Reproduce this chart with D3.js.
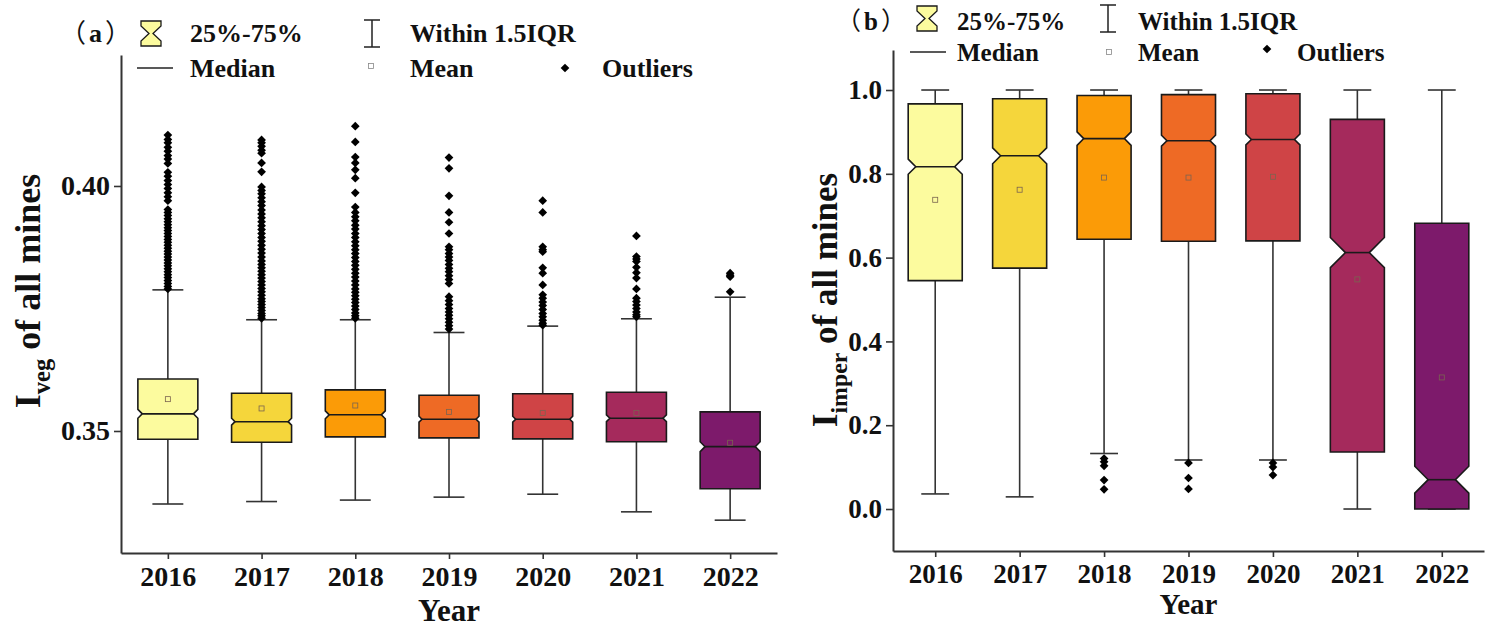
<!DOCTYPE html>
<html>
<head>
<meta charset="utf-8">
<script src="https://cdn.jsdelivr.net/npm/d3@7"></script>
<style>
  body { margin: 0; background: #fff; }
  text { font-family: "Liberation Serif", "Noto Sans CJK SC", serif; font-weight: bold; fill: #111; }
</style>
</head>
<body>
<svg id="chart"></svg>
<script>
// years on the x axis (both panels)
const years = ["2016", "2017", "2018", "2019", "2020", "2021", "2022"];
const boxColors = ["#FCFB9E", "#F5D63B", "#FB9B07", "#EE6A25", "#CF4446", "#A52A5C", "#7D1A6B"];

// panel (a) I_veg
const vegTicks = [0.35, 0.40];
const vegQ1 = [0.3483, 0.3477, 0.3488, 0.3486, 0.3484, 0.3478, 0.3382];
const vegMed = [0.3535, 0.3519, 0.3533, 0.3524, 0.3524, 0.3526, 0.3468];
const vegQ3 = [0.3606, 0.3577, 0.3584, 0.3573, 0.3576, 0.3579, 0.3539];
const vegMean = [0.3565, 0.3546, 0.3552, 0.3539, 0.3537, 0.3537, 0.3476];
const vegLow = [0.3351, 0.3356, 0.3359, 0.3365, 0.3371, 0.3335, 0.3318];
const vegHigh = [0.3788, 0.3727, 0.3727, 0.3701, 0.3714, 0.3729, 0.3773];
const vegNotch = [0.0009, 0.0007, 0.0008, 0.0006, 0.0006, 0.0007, 0.0010];
const vegOut2016 = [0.4104, 0.4095, 0.4088, 0.4079, 0.4071, 0.4062, 0.4055, 0.4046, 0.4028, 0.4020, 0.4011,
  0.4003, 0.3995, 0.3986, 0.3978, 0.3970, 0.3952, 0.3946, 0.3940, 0.3933, 0.3927, 0.3921, 0.3915, 0.3909,
  0.3903, 0.3897, 0.3891, 0.3885, 0.3879, 0.3873, 0.3867, 0.3861, 0.3855, 0.3849, 0.3843, 0.3837, 0.3831,
  0.3825, 0.3819, 0.3813, 0.3807, 0.3801, 0.3795, 0.3790];
const vegOut2017 = [0.4094, 0.4088, 0.4081, 0.4073, 0.4067, 0.4047, 0.4029, 0.3998, 0.3991, 0.3984, 0.3976,
  0.3968, 0.3960, 0.3951, 0.3943, 0.3935, 0.3927, 0.3919, 0.3911, 0.3903, 0.3895, 0.3887, 0.3879, 0.3871,
  0.3863, 0.3855, 0.3847, 0.3840, 0.3833, 0.3826, 0.3819, 0.3812, 0.3805, 0.3798, 0.3791, 0.3784, 0.3777,
  0.3770, 0.3764, 0.3758, 0.3752, 0.3746, 0.3740, 0.3735, 0.3730];
const vegOut2018 = [0.4122, 0.4090, 0.4059, 0.4047, 0.4033, 0.4016, 0.3986, 0.3957, 0.3946, 0.3937, 0.3929,
  0.3920, 0.3912, 0.3903, 0.3895, 0.3886, 0.3878, 0.3870, 0.3862, 0.3854, 0.3846, 0.3838, 0.3830, 0.3822,
  0.3814, 0.3806, 0.3798, 0.3790, 0.3783, 0.3776, 0.3769, 0.3762, 0.3755, 0.3748, 0.3741, 0.3735, 0.3730];
const vegOut2019 = [0.4058, 0.4036, 0.3980, 0.3946, 0.3926, 0.3903, 0.3876, 0.3870, 0.3862, 0.3855, 0.3848,
  0.3840, 0.3832, 0.3825, 0.3817, 0.3809, 0.3801, 0.3774, 0.3766, 0.3758, 0.3750, 0.3743, 0.3736, 0.3729,
  0.3722, 0.3715, 0.3708];
const vegOut2020 = [0.3970, 0.3946, 0.3876, 0.3870, 0.3866, 0.3833, 0.3822, 0.3798, 0.3778, 0.3771, 0.3763,
  0.3756, 0.3748, 0.3740, 0.3733, 0.3726, 0.3720, 0.3716];
const vegOut2021 = [0.3898, 0.3856, 0.3851, 0.3846, 0.3834, 0.3823, 0.3812, 0.3790, 0.3771, 0.3764, 0.3757,
  0.3750, 0.3743, 0.3737, 0.3733];
const vegOut2022 = [0.3822, 0.3818, 0.3815, 0.3784];
const vegOutliers = [vegOut2016, vegOut2017, vegOut2018, vegOut2019, vegOut2020, vegOut2021, vegOut2022];

// panel (b) I_imper
const imperTicks = [0.0, 0.2, 0.4, 0.6, 0.8, 1.0];
const imperQ1 = [0.545, 0.575, 0.644, 0.639, 0.640, 0.136, 0.0];
const imperMed = [0.817, 0.843, 0.884, 0.879, 0.882, 0.612, 0.070];
const imperQ3 = [0.967, 0.979, 0.987, 0.989, 0.991, 0.930, 0.682];
const imperMean = [0.738, 0.762, 0.791, 0.791, 0.793, 0.548, 0.314];
const imperLow = [0.036, 0.029, 0.1325, 0.117, 0.117, 0.0, 0.0];
const imperHigh = [1.0, 1.0, 1.0, 1.0, 1.0, 1.0, 1.0];
const imperNotch = [0.018, 0.019, 0.016, 0.013, 0.013, 0.036, 0.032];
const imperOutliers = [[], [], [0.1206, 0.1127, 0.103, 0.069, 0.047], [0.110, 0.074, 0.048], [0.110, 0.100, 0.081], [], []];

const width = 1497, height = 628;

const svg = d3.select("#chart")
  .attr("width", width)
  .attr("height", height)
  .style("display", "block");

svg.append("rect").attr("width", width).attr("height", height).attr("fill", "#fff");

const diamond = d3.symbol().type(d3.symbolSquare).size(38);

function drawPanel(p) {
  const x = d3.scalePoint().domain(years).range(p.xRange).padding(0.5);
  const y = d3.scaleLinear().domain(p.yDomain).range(p.yRange);
  const step = x.step();
  const boxW = step * 0.64, capW = step * 0.33;

  const g = svg.append("g");

  const rows = years.map((yr, i) => ({
    yr, i, q1: p.q1[i], med: p.med[i], q3: p.q3[i], mean: p.mean[i],
    lo: p.low[i], hi: p.high[i], notch: p.notch[i], out: p.outliers[i]
  }));

  const box = g.selectAll(".box").data(rows).enter().append("g").attr("class", "box");

  // whiskers
  box.append("line")
    .attr("x1", d => x(d.yr)).attr("x2", d => x(d.yr))
    .attr("y1", d => y(d.hi)).attr("y2", d => y(d.q3))
    .attr("stroke", "#333").attr("stroke-width", 1.6);
  box.append("line")
    .attr("x1", d => x(d.yr)).attr("x2", d => x(d.yr))
    .attr("y1", d => y(d.q1)).attr("y2", d => y(d.lo))
    .attr("stroke", "#333").attr("stroke-width", 1.6);
  [d => d.hi, d => d.lo].forEach(acc => {
    box.append("line")
      .attr("x1", d => x(d.yr) - capW / 2).attr("x2", d => x(d.yr) + capW / 2)
      .attr("y1", d => y(acc(d))).attr("y2", d => y(acc(d)))
      .attr("stroke", "#333").attr("stroke-width", 1.6);
  });

  // notched box
  const indent = d => Math.min(Math.abs(y(d.med) - y(d.med + d.notch)), boxW * 0.3);
  box.append("path")
    .attr("d", d => {
      const x0 = x(d.yr) - boxW / 2, x1 = x(d.yr) + boxW / 2;
      const nTop = y(d.med + d.notch), nBot = y(Math.max(d.med - d.notch, d.q1));
      const ind = indent(d);
      const ym = y(d.med);
      return "M" + x0 + "," + y(d.q3) + "L" + x1 + "," + y(d.q3) +
        "L" + x1 + "," + nTop + "L" + (x1 - ind) + "," + ym + "L" + x1 + "," + nBot +
        "L" + x1 + "," + y(d.q1) + "L" + x0 + "," + y(d.q1) +
        "L" + x0 + "," + nBot + "L" + (x0 + ind) + "," + ym + "L" + x0 + "," + nTop + "Z";
    })
    .attr("fill", d => boxColors[d.i])
    .attr("stroke", "#1a1a1a").attr("stroke-width", 1.6);

  // median
  box.append("line")
    .attr("x1", d => x(d.yr) - boxW / 2 + indent(d))
    .attr("x2", d => x(d.yr) + boxW / 2 - indent(d))
    .attr("y1", d => y(d.med)).attr("y2", d => y(d.med))
    .attr("stroke", "#1a1a1a").attr("stroke-width", 1.6);

  // mean
  box.append("rect")
    .attr("x", d => x(d.yr) - 2.5).attr("y", d => y(d.mean) - 2.5)
    .attr("width", 5).attr("height", 5)
    .attr("fill", "none").attr("stroke", "#7a6450").attr("stroke-width", 0.8);

  // outliers
  box.selectAll(".out").data(d => d.out.map(v => ({ yr: d.yr, v })))
    .enter().append("path").attr("class", "out")
    .attr("d", diamond)
    .attr("transform", d => "translate(" + x(d.yr) + "," + y(d.v) + ") rotate(45)")
    .attr("fill", "#000");

  // axes
  const xAxis = g.append("g")
    .attr("transform", "translate(0," + p.yRange[0] + ")")
    .call(d3.axisBottom(x).tickSize(6).tickSizeOuter(0).tickPadding(7));
  xAxis.selectAll("text").style("font-size", p.tickFont + "px").attr("fill", "#111");

  const yAxis = g.append("g")
    .attr("transform", "translate(" + p.xRange[0] + ",0)")
    .call(d3.axisLeft(y).tickValues(p.ticks).tickFormat(d3.format(p.fmt)).tickSize(7).tickSizeOuter(0).tickPadding(4));
  yAxis.selectAll("text").style("font-size", p.tickFont + "px").attr("fill", "#111");

  [xAxis, yAxis].forEach(a => {
    a.select(".domain").attr("stroke", "#333").attr("stroke-width", 2);
    a.selectAll(".tick line").attr("stroke", "#333").attr("stroke-width", 1.6);
  });

  // axis titles
  g.append("text")
    .attr("x", (p.xRange[0] + p.xRange[1]) / 2).attr("y", p.yearY)
    .attr("text-anchor", "middle").style("font-size", p.titleFont + "px")
    .text("Year");

  const yt = g.append("text")
    .attr("transform", "translate(" + p.ytX + "," + p.ytY + ") rotate(-90)")
    .attr("text-anchor", "middle").style("font-size", p.yFont + "px");
  yt.append("tspan").text("I");
  yt.append("tspan").attr("dy", p.yFont * 0.28).style("font-size", (p.yFont * 0.68) + "px").text(p.sub);
  yt.append("tspan").attr("dy", -p.yFont * 0.28).text(" of all mines");

  // legend
  const L = p.legend;
  const lf = p.legendFont + "px";
  const tag = g.append("text").attr("x", L.tag[0]).attr("y", L.tag[1]).style("font-size", lf);
  tag.append("tspan").style("font-family", "'Noto Sans CJK SC'").style("font-weight", "normal").text("（");
  tag.append("tspan").attr("dx", 3).text(p.tag);
  tag.append("tspan").attr("dx", 3).style("font-family", "'Noto Sans CJK SC'").style("font-weight", "normal").text("）");
  const hx = L.hour[0], hy = L.hour[1];
  g.append("path")
    .attr("d", "M" + hx + "," + hy + "h20v5l-8,7.5l8,7.5v5h-20v-5l8,-7.5l-8,-7.5z")
    .attr("fill", boxColors[0]).attr("stroke", "#1a1a1a").attr("stroke-width", 1.3);
  g.append("text").attr("x", L.t1[0]).attr("y", L.t1[1]).style("font-size", lf).text("25%-75%");
  const wx = L.whisk[0], wy = L.whisk[1];
  g.append("path")
    .attr("d", "M" + (wx - 8) + "," + wy + "h16M" + wx + "," + wy + "v27M" + (wx - 8) + "," + (wy + 27) + "h16")
    .attr("stroke", "#222").attr("stroke-width", 1.5).attr("fill", "none");
  g.append("text").attr("x", L.t2[0]).attr("y", L.t1[1]).style("font-size", lf).text("Within 1.5IQR");
  g.append("line")
    .attr("x1", L.med[0]).attr("x2", L.med[0] + 36).attr("y1", L.med[1]).attr("y2", L.med[1])
    .attr("stroke", "#222").attr("stroke-width", 1.5);
  g.append("text").attr("x", L.t1[0]).attr("y", L.row2).style("font-size", lf).text("Median");
  g.append("rect")
    .attr("x", L.mean[0] - 2.5).attr("y", L.mean[1] - 2.5).attr("width", 5).attr("height", 5)
    .attr("fill", "none").attr("stroke", "#888").attr("stroke-width", 0.8);
  g.append("text").attr("x", L.t2[0]).attr("y", L.row2).style("font-size", lf).text("Mean");
  g.append("path").attr("d", diamond)
    .attr("transform", "translate(" + L.dia[0] + "," + L.dia[1] + ") rotate(45)").attr("fill", "#000");
  g.append("text").attr("x", L.t3).attr("y", L.row2).style("font-size", lf).text("Outliers");
}

drawPanel({
  xRange: [121, 777], yRange: [553, 55], yDomain: [0.32510, 0.42673],
  ticks: vegTicks, fmt: ".2f",
  q1: vegQ1, med: vegMed, q3: vegQ3, mean: vegMean, low: vegLow, high: vegHigh,
  notch: vegNotch, outliers: vegOutliers,
  tickFont: 28, titleFont: 31, yFont: 36, legendFont: 26,
  yearY: 621, ytX: 40, ytY: 291, sub: "veg", tag: "a",
  legend: {
    tag: [60, 42], hour: [141, 21], t1: [190, 42], whisk: [372, 20], t2: [410, 0],
    med: [137, 68], row2: 77, mean: [371, 66], dia: [565, 68], t3: 602
  }
});

drawPanel({
  xRange: [893, 1484], yRange: [551, 50], yDomain: [-0.1002, 1.0955],
  ticks: imperTicks, fmt: ".1f",
  q1: imperQ1, med: imperMed, q3: imperQ3, mean: imperMean, low: imperLow, high: imperHigh,
  notch: imperNotch, outliers: imperOutliers,
  tickFont: 27, titleFont: 29, yFont: 35, legendFont: 25,
  yearY: 614, ytX: 837, ytY: 300, sub: "imper", tag: "b",
  legend: {
    tag: [836, 30], hour: [917, 6], t1: [957, 30], whisk: [1108, 5], t2: [1138, 0],
    med: [910, 52], row2: 61, mean: [1109, 52], dia: [1267, 49], t3: 1297
  }
});
</script>
</body>
</html>
